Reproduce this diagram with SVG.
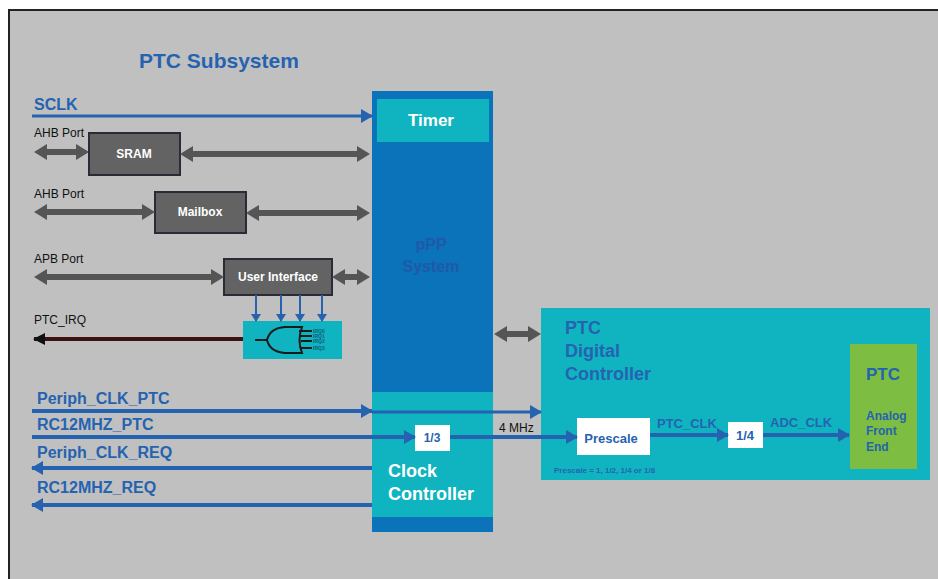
<svg xmlns="http://www.w3.org/2000/svg" width="938" height="579" viewBox="0 0 938 579">
<style>
text{font-family:"Liberation Sans",Arial,sans-serif}
.b{font-weight:bold}
.blue{fill:#2563b0}
.lbl{font-size:12px;fill:#111}
.sig{font-size:16px;font-weight:bold;fill:#2563b0}
.sig2{font-size:13px;font-weight:bold;fill:#2563b0}
.box{fill:#636363;stroke:#2b2b38;stroke-width:2}
.boxt{font-size:12px;font-weight:bold;fill:#fff;text-anchor:middle}
.gray{fill:#555555}
.bl{stroke:#2563b0;stroke-width:4;fill:none}
.wbox{fill:#fff}
.wt{font-size:13px;font-weight:bold;fill:#2563b0;text-anchor:middle}
</style>
<defs>
<marker id="ah" markerUnits="userSpaceOnUse" markerWidth="12" markerHeight="14" refX="11" refY="7" orient="auto">
<path d="M0,0 L12,7 L0,14 z" fill="#2563b0"/>
</marker>
<marker id="ahs" markerUnits="userSpaceOnUse" markerWidth="8" markerHeight="10" refX="7" refY="5" orient="auto">
<path d="M0,0 L8,5 L0,10 z" fill="#2563b0"/>
</marker>
<marker id="ahk" markerUnits="userSpaceOnUse" markerWidth="12" markerHeight="12" refX="11" refY="6" orient="auto">
<path d="M0,0 L12,6 L0,12 z" fill="#111"/>
</marker>
</defs>
<rect x="0" y="0" width="938" height="579" fill="#fff"/>
<rect x="9" y="10" width="940" height="580" fill="#c0c0c0" stroke="#222" stroke-width="2"/>
<text x="139" y="68" class="b blue" font-size="21">PTC Subsystem</text>

<g id="ppp">
<rect x="372" y="91" width="121" height="441" fill="#0a73b9"/>
<text x="431" y="250" text-anchor="middle" class="b" font-size="16" fill="#2059a8">pPP</text>
<text x="431" y="272" text-anchor="middle" class="b" font-size="16" fill="#2059a8">System</text>
</g>
<g id="timer">
<rect x="377" y="99" width="112" height="43" fill="#10b4c0"/>
<text x="431" y="126" text-anchor="middle" class="b" font-size="17" fill="#fff">Timer</text>
</g>
<g id="clock">
<rect x="372" y="392" width="121" height="125" fill="#10b4c0"/>
<text x="388" y="477" class="b" font-size="18" fill="#fff">Clock</text>
<text x="388" y="500" class="b" font-size="18" fill="#fff">Controller</text>
</g>
<g id="sram">
<rect x="89" y="133" width="91" height="42" class="box"/>
<text x="134" y="158" class="boxt">SRAM</text>
</g>
<g id="mailbox">
<rect x="155" y="192" width="91" height="41" class="box"/>
<text x="200" y="216" class="boxt">Mailbox</text>
</g>
<g id="ui">
<rect x="224" y="259" width="108" height="36" class="box"/>
<text x="278" y="281" class="boxt">User Interface</text>
</g>
<g id="irq">
<rect x="243" y="321" width="99" height="38" fill="#10b4c0"/>
<path d="M302,327 L285,327 Q270,328 267,340 Q270,352 285,353 L302,353 Q297,340 302,327 Z" fill="none" stroke="#1a1a1a" stroke-width="2"/>
<line x1="255" y1="340" x2="267" y2="340" stroke="#1a1a1a" stroke-width="2"/>
<g stroke="#1a1a1a" stroke-width="2">
<line x1="299" y1="331" x2="312" y2="331"/>
<line x1="300" y1="336" x2="312" y2="336"/>
<line x1="301" y1="341" x2="312" y2="341"/>
<line x1="300" y1="348" x2="312" y2="348"/>
</g>
<g font-size="5" class="b" fill="#135a7a">
<text x="313" y="333">IRQ0</text>
<text x="313" y="338">IRQ1</text>
<text x="313" y="343">IRQ2</text>
<text x="313" y="350">IRQ3</text>
</g>
</g>
<g id="ptcdc">
<rect x="541" y="308" width="389" height="172" fill="#10b4c0"/>
<text x="565" y="334" class="b blue" font-size="18">PTC</text>
<text x="565" y="357" class="b blue" font-size="18">Digital</text>
<text x="565" y="380" class="b blue" font-size="18">Controller</text>
<text x="554" y="473" class="b blue" font-size="8">Prescale = 1, 1/2, 1/4 or 1/8</text>
</g>
<g id="afe">
<rect x="850" y="344" width="67" height="125" fill="#7dbd41"/>
<text x="866" y="380" class="b blue" font-size="17">PTC</text>
<text x="866" y="420" class="b blue" font-size="12">Analog</text>
<text x="866" y="435" class="b blue" font-size="12">Front</text>
<text x="866" y="451" class="b blue" font-size="12">End</text>
</g>
<g id="prescale">
<rect x="577" y="418" width="73" height="37" class="wbox"/>
<text x="611" y="443" class="wt">Prescale</text>
</g>
<g id="div3">
<rect x="415" y="425" width="35" height="26" class="wbox"/>
<text x="432" y="442" class="wt" style="font-size:12px">1/3</text>
</g>
<g id="div4">
<rect x="728" y="422" width="35" height="26" class="wbox"/>
<text x="745" y="440" class="wt">1/4</text>
</g>

<g id="labels">
<text x="34" y="110" class="sig">SCLK</text>
<text x="34" y="137" class="lbl">AHB Port</text>
<text x="34" y="198" class="lbl">AHB Port</text>
<text x="34" y="263" class="lbl">APB Port</text>
<text x="34" y="324" class="lbl">PTC_IRQ</text>
<text x="37" y="404" class="sig">Periph_CLK_PTC</text>
<text x="37" y="430" class="sig">RC12MHZ_PTC</text>
<text x="37" y="458" class="sig">Periph_CLK_REQ</text>
<text x="37" y="493" class="sig">RC12MHZ_REQ</text>
<text x="499" y="432" class="lbl">4 MHz</text>
<text x="657" y="428" class="sig2">PTC_CLK</text>
<text x="770" y="427" class="sig2">ADC_CLK</text>
</g>

<g id="connectors">
<line x1="32" y1="116" x2="372" y2="116" stroke="#2563b0" stroke-width="3" marker-end="url(#ah)"/>
<polygon class="gray" points="34,152 47,144 47,149 76,149 76,144 89,152 76,160 76,155 47,155 47,160"/>
<polygon class="gray" points="180,154 193,146 193,151 357,151 357,146 370,154 357,162 357,157 193,157 193,162"/>
<polygon class="gray" points="34,212 47,204 47,209 142,209 142,204 155,212 142,220 142,215 47,215 47,220"/>
<polygon class="gray" points="246,213 259,205 259,210 357,210 357,205 370,213 357,221 357,216 259,216 259,221"/>
<polygon class="gray" points="34,277 47,269 47,274 211,274 211,269 224,277 211,285 211,280 47,280 47,285"/>
<polygon class="gray" points="332,277 345,269 345,274 357,274 357,269 370,277 357,285 357,280 345,280 345,285"/>
<polygon class="gray" points="494,334 507,326 507,331 528,331 528,326 541,334 528,342 528,337 507,337 507,342"/>
<g stroke="#2563b0" stroke-width="2" marker-end="url(#ahs)">
<line x1="256" y1="295" x2="256" y2="321"/>
<line x1="281" y1="295" x2="281" y2="321"/>
<line x1="300" y1="295" x2="300" y2="321"/>
<line x1="322" y1="295" x2="322" y2="321"/>
</g>
<line x1="243" y1="339" x2="34" y2="339" stroke="#3a1214" stroke-width="4" marker-end="url(#ahk)"/>
<line x1="32" y1="411" x2="372" y2="411" class="bl" marker-end="url(#ah)"/>
<line x1="372" y1="412" x2="541" y2="412" stroke="#2563b0" stroke-width="3" marker-end="url(#ah)"/>
<line x1="32" y1="437" x2="415" y2="437" class="bl" marker-end="url(#ah)"/>
<line x1="450" y1="437" x2="577" y2="437" class="bl" marker-end="url(#ah)"/>
<line x1="650" y1="435" x2="728" y2="435" class="bl" marker-end="url(#ah)"/>
<line x1="763" y1="435" x2="849" y2="435" class="bl" marker-end="url(#ah)"/>
<line x1="372" y1="468" x2="32" y2="468" class="bl" marker-end="url(#ah)"/>
<line x1="372" y1="505" x2="32" y2="505" class="bl" marker-end="url(#ah)"/>
</g>
</svg>
